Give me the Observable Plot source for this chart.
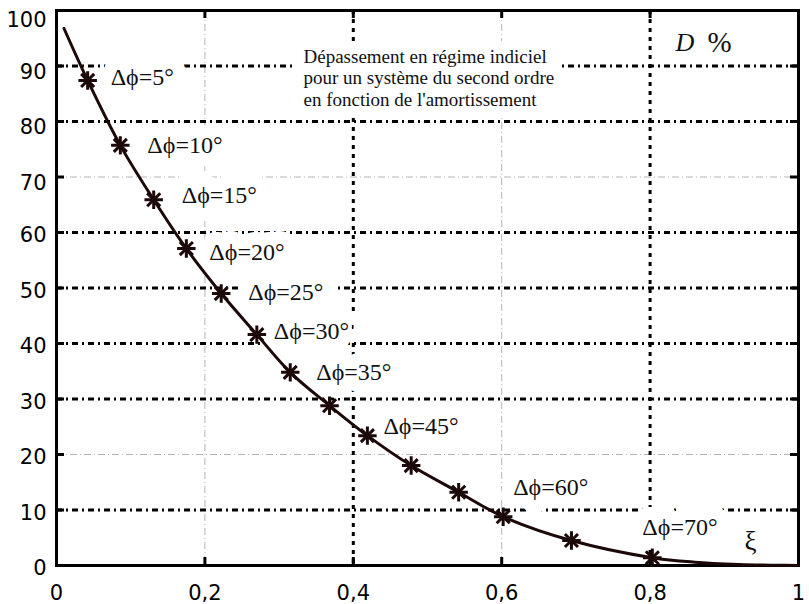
<!DOCTYPE html>
<html>
<head>
<meta charset="utf-8">
<script src="https://cdn.jsdelivr.net/npm/d3@7"></script>
<script src="https://cdn.jsdelivr.net/npm/@observablehq/plot@0.6"></script>
<style>
  html, body { margin: 0; padding: 0; background: #fff; }
  svg { display: block; }
</style>
</head>
<body>
<div id="chart"></div>
<script>
// ---- data ----
const phaseMargin = [5, 10, 15, 20, 25, 30, 35, 40, 45, 50, 55, 60, 65, 70];
const xi =        [0.042, 0.086, 0.131, 0.175, 0.222, 0.270, 0.315, 0.368, 0.419, 0.478, 0.542, 0.602, 0.694, 0.803];
const overshoot = [87.4, 75.7, 65.9, 57.1, 49.0, 41.6, 34.8, 28.8, 23.4, 18.0, 13.2, 8.8, 4.5, 1.4];

const curveXi = [0.010, 0.042, 0.086, 0.131, 0.175, 0.222, 0.270, 0.315, 0.368, 0.419, 0.478, 0.542, 0.602, 0.694, 0.803, 0.86, 0.92, 0.97, 1.0];
const curveD  = [96.8, 87.4, 75.7, 65.9, 57.1, 49.0, 41.6, 34.8, 28.8, 23.4, 18.0, 13.2, 8.8, 4.5, 1.4, 0.6, 0.2, 0.05, 0];

const labeledPM = [5, 10, 15, 20, 25, 30, 35, 45, 60, 70];

const xTicks = [0, 0.2, 0.4, 0.6, 0.8, 1];
const yTicks = [0, 10, 20, 30, 40, 50, 60, 70, 80, 90, 100];
const heavyGridY = [10, 30, 40, 50, 60, 80, 90];
const lightGridY = [20, 70];
const heavyGridX = [0.4, 0.8];
const lightGridX = [0.2, 0.6];

const titleText = "Dépassement en régime indiciel\npour un système du second ordre\nen fonction de l'amortissement";
const yName = "D";
const yUnit = "%";
const xName = "ξ";

// ---- layout (pixel offsets of label text relative to its marker) ----
const labelDx = [23, 27, 28, 23, 27, 17, 26, 16, 10, -10];
const labelDy = [-3, 0, -4, 4, -1, -3, 0, -9, -29, -30];

const points = phaseMargin.map((pm, i) => ({pm, xi: xi[i], d: overshoot[i]}));
const curve = curveXi.map((x, i) => ({x, y: curveD[i]}));

const ink = "#1c0808";
const serif = "Liberation Serif, DejaVu Serif, Times New Roman, serif";
const sans = "DejaVu Sans, sans-serif";

// each label = a white "background" copy + the black text
const labelMarks = (halo) => labeledPM.map((pm, j) => {
  const p = points.find(q => q.pm === pm);
  return Plot.text([p], {
    x: "xi", y: "d", text: d => `Δϕ=${d.pm}°`,
    dx: labelDx[j], dy: labelDy[j],
    textAnchor: "start", lineAnchor: "middle",
    fontFamily: serif, fontSize: 24,
    ...(halo ? {fill: "white", stroke: "white", strokeWidth: 26, strokeLinejoin: "round"} : {fill: "#111"})
  });
});

const titleMark = (halo) => Plot.text([titleText], {
  frameAnchor: "top-left", dx: 247, dy: 67,
  textAnchor: "start", lineAnchor: "middle", lineHeight: 1.13,
  fontFamily: serif, fontSize: 19,
  ...(halo ? {fill: "white", stroke: "white", strokeWidth: 24, strokeLinejoin: "round"} : {fill: "#111"})
});

const yAxis = (ticks, dy) => Plot.axisY({ticks, tickSize: 0, tickPadding: 10, dy,
  fontSize: 21, fontFamily: sans, label: null});

const chart = Plot.plot({
  width: 809,
  height: 604,
  marginTop: 10,
  marginRight: 11,
  marginBottom: 39,
  marginLeft: 56,
  style: {fontFamily: sans, fontSize: "21px", color: "#000", background: "#fff"},
  x: {domain: [0, 1]},
  y: {domain: [0, 100]},
  marks: [
    // light grid
    Plot.ruleY(lightGridY, {stroke: "#b4b4b4", strokeWidth: 1, strokeDasharray: "7,3,1,3"}),
    Plot.ruleX(lightGridX, {stroke: "#b4b4b4", strokeWidth: 1, strokeDasharray: "7,3,1,3"}),
    // heavy grid
    Plot.ruleY(heavyGridY, {stroke: "#000", strokeWidth: 3, strokeDasharray: "6,4,2,4"}),
    Plot.ruleX(heavyGridX, {stroke: "#000", strokeWidth: 3, strokeDasharray: "4,5"}),
    // white backgrounds of the annotations
    titleMark(true),
    ...labelMarks(true),
    // annotation texts
    titleMark(false),
    ...labelMarks(false),
    Plot.text([yName], {
      frameAnchor: "top-right", dx: -123, dy: 32, textAnchor: "start", lineAnchor: "middle",
      fontFamily: serif, fontSize: 26, fontStyle: "italic", fill: "#111"
    }),
    Plot.text([yUnit], {
      frameAnchor: "top-right", dx: -91, dy: 32, textAnchor: "start", lineAnchor: "middle",
      fontFamily: serif, fontSize: 29, fill: "#111"
    }),
    Plot.text([xName], {
      frameAnchor: "bottom-right", dx: -48, dy: -24, textAnchor: "middle", lineAnchor: "middle",
      fontFamily: serif, fontSize: 27, fill: "#111"
    }),
    // frame and inward ticks
    Plot.frame({stroke: "#000", strokeWidth: 3}),
    Plot.tickX(xTicks.slice(1, -1), {insetTop: 547, stroke: "#000", strokeWidth: 3}),
    Plot.tickX(xTicks.slice(1, -1), {insetBottom: 547, stroke: "#000", strokeWidth: 3}),
    Plot.tickY(yTicks.slice(1, -1), {insetRight: 734, stroke: "#000", strokeWidth: 3}),
    Plot.tickY(yTicks.slice(1, -1), {insetLeft: 734, stroke: "#000", strokeWidth: 3}),
    // axes
    yAxis([100], 10),
    yAxis([70, 80, 90], 6),
    yAxis([0, 10, 20, 30, 40, 50, 60], 3),
    Plot.axisX({ticks: xTicks, tickSize: 0, tickPadding: 20, fontSize: 21, fontFamily: sans, label: null,
      tickFormat: d => String(d).replace(".", ",")}),
    // curve and markers
    Plot.line(curve, {x: "x", y: "y", curve: "catmull-rom", stroke: ink, strokeWidth: 3}),
    Plot.dot(points, {x: "xi", y: "d", symbol: "plus", r: 6, stroke: ink, strokeWidth: 3}),
    Plot.dot(points, {x: "xi", y: "d", symbol: "times", r: 6, stroke: ink, strokeWidth: 3})
  ]
});

document.getElementById("chart").append(chart);
</script>
</body>
</html>
